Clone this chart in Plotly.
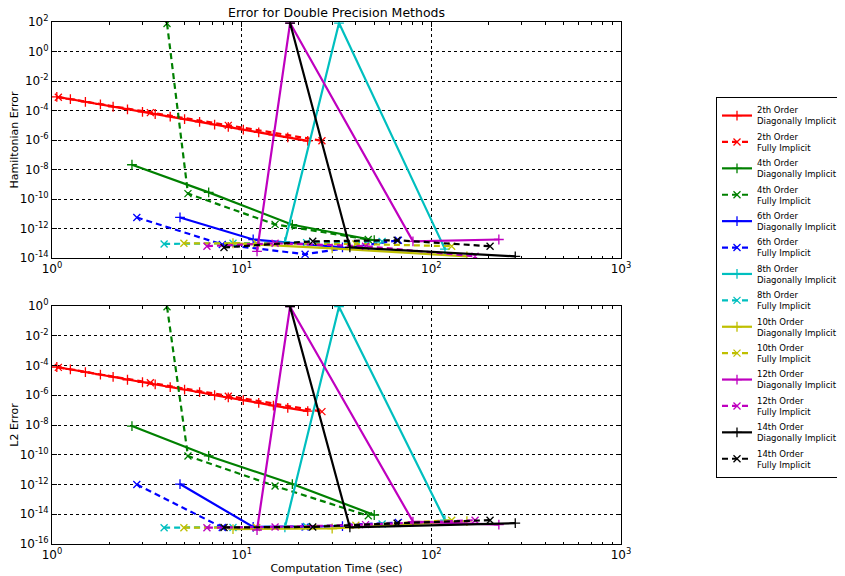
import plotly.graph_objects as go

# ---------------- data ----------------
orders = ["2th", "4th", "6th", "8th", "10th", "12th", "14th"]

t2d = [1.06, 1.25, 1.5, 1.8, 2.1, 2.5, 3.0, 3.5, 4.2, 5.0, 6.0, 7.2, 8.5, 10.2, 12.3, 14.7, 17.5, 22.3]
h2d = [8.5e-4, 5.9e-4, 3.9e-4, 2.6e-4, 1.8e-4, 1.2e-4, 8.1e-5, 5.8e-5, 3.8e-5, 2.6e-5, 1.7e-5, 1.1e-5, 7.8e-6, 5.1e-6, 3.3e-6, 2.2e-6, 1.5e-6, 8.7e-7]
l2d = [7.9e-5, 5.5e-5, 3.6e-5, 2.4e-5, 1.7e-5, 1.1e-5, 7.5e-6, 5.4e-6, 3.5e-6, 2.4e-6, 1.6e-6, 1.0e-6, 7.2e-7, 4.7e-7, 3.1e-7, 2.0e-7, 1.4e-7, 8.5e-8]
t2f = [1.08, 3.3, 8.5, 26.5]
h2f = [8.0e-4, 7.2e-5, 9.8e-6, 8.9e-7]
l2f = [7.5e-5, 7.0e-6, 8.5e-7, 7.9e-8]

t4d = [2.64, 6.7, 18.5, 50]
h4d = [2.1e-8, 2.8e-10, 1.8e-12, 1.6e-13]
l4d = [8.5e-9, 8.3e-11, 1.07e-12, 8.9e-15]
t4f = [4.04, 5.21, 15.0, 46.5]
h4f = [80, 2.3e-10, 1.9e-12, 1.8e-13]
l4f = [0.9, 8.3e-11, 7.9e-13, 7.9e-15]

t6d = [4.73, 11.5, 34]
h6d = [5.6e-12, 1.8e-13, 5.2e-14]
l6d = [1.07e-12, 1.4e-15, 1.6e-15]
t6f = [2.8, 7.9, 21.6, 67]
h6f = [5.6e-12, 8.3e-14, 1.8e-14, 1.6e-13]
l6f = [1.0e-12, 1.3e-15, 1.4e-15, 2.8e-15]

t8d = [16.9, 32.6, 118]
h8d = [1.2e-13, 85, 4.0e-14]
l8d = [1.3e-15, 0.9, 4.0e-15]
t8f = [3.9, 9.0, 22, 55]
h8f = [9e-14, 1.0e-13, 1.1e-13, 1.3e-13]
l8f = [1.25e-15, 1.3e-15, 1.5e-15, 2.2e-15]

t10d = [9.0, 30, 154]
h10d = [1.0e-13, 4.5e-14, 1.3e-14]
l10d = [1.0e-15, 1.1e-15, 3.5e-15]
t10f = [4.96, 12, 40, 128]
h10f = [1.0e-13, 1.0e-13, 9e-14, 6.3e-14]
l10f = [1.25e-15, 1.3e-15, 1.8e-15, 4.0e-15]

t12d = [12.05, 18.0, 80, 227]
h12d = [2.8e-14, 85, 1.35e-13, 1.8e-13]
l12d = [8.7e-16, 0.9, 3.2e-15, 2.0e-15]
t12f = [6.56, 15, 45, 170]
h12f = [6.3e-14, 1.0e-13, 6.3e-14, 1.3e-14]
l12f = [1.25e-15, 1.4e-15, 2.0e-15, 4.0e-15]

t14d = [18.0, 37.2, 277]
h14d = [85, 5.2e-14, 1.3e-14]
l14d = [0.9, 1.3e-15, 2.5e-15]
t14f = [8.07, 23.7, 66, 204]
h14f = [5.2e-14, 1.35e-13, 1.6e-13, 6.3e-14]
l14f = [1.3e-15, 1.4e-15, 2.5e-15, 4.0e-15]

colors = ["#FF0000", "#008000", "#0000FF", "#00BFBF", "#BFBF00", "#BF00BF", "#000000"]

diag = [(t2d, h2d, l2d), (t4d, h4d, l4d), (t6d, h6d, l6d), (t8d, h8d, l8d),
        (t10d, h10d, l10d), (t12d, h12d, l12d), (t14d, h14d, l14d)]
full = [(t2f, h2f, l2f), (t4f, h4f, l4f), (t6f, h6f, l6f), (t8f, h8f, l8f),
        (t10f, h10f, l10f), (t12f, h12f, l12f), (t14f, h14f, l14f)]

x_ticks = [1, 10, 100, 1000]
x_tick_text = ["10<sup>0</sup>", "10<sup>1</sup>", "10<sup>2</sup>", "10<sup>3</sup>"]
y_top_exp = [2, 0, -2, -4, -6, -8, -10, -12, -14]
y_bot_exp = [0, -2, -4, -6, -8, -10, -12, -14, -16]

# ---------------- figure ----------------
# The page body has an 8px margin, so the figure occupies page pixels 8..845 x 8..576.
W, H = 837, 568
fig = go.Figure()
FONT = "DejaVu Sans"

for i, order in enumerate(orders):
    c = colors[i]
    for kind, data, sym, dash in (("Diagonally Implicit", diag[i], "cross-thin", "solid"),
                                  ("Fully Implicit", full[i], "x-thin", "6px,4px")):
        t, h, l = data
        name = f"{order} Order<br>{kind}"
        for row, yy in ((1, h), (2, l)):
            fig.add_trace(go.Scatter(
                x=t, y=yy, mode="lines+markers", name=name,
                legendgroup=name, showlegend=(row == 1),
                line=dict(color=c, width=2.2, dash=dash),
                marker=dict(symbol=sym, size=7, color=c, line=dict(color=c, width=1.3)),
                xaxis="x" if row == 1 else "x2",
                yaxis="y" if row == 1 else "y2",
            ))

minor_x = [m * 10 ** k for k in range(0, 3) for m in range(2, 10)]

common_x = dict(
    type="log", range=[0, 3], tickvals=x_ticks, ticktext=x_tick_text,
    ticks="inside", ticklen=5, tickcolor="black", mirror="allticks",
    showline=True, linecolor="black", linewidth=1,
    showgrid=True, gridcolor="black", griddash="dot", gridwidth=0.6,
    zeroline=False, tickfont=dict(size=12, family=FONT, color="black"),
    minor=dict(tickvals=minor_x, ticks="inside", ticklen=2.5, tickcolor="black", showgrid=False),
)

def yax(exps, rng, title, domain):
    return dict(
        type="log", range=rng, domain=domain,
        tickvals=[10 ** e for e in exps],
        ticktext=[f"10<sup>{e}</sup>" for e in exps],
        ticks="inside", ticklen=5, tickcolor="black", mirror="allticks",
        showline=True, linecolor="black", linewidth=1,
        showgrid=True, gridcolor="black", griddash="dot", gridwidth=0.6,
        zeroline=False, tickfont=dict(size=12, family=FONT, color="black"),
        title=dict(text=title, font=dict(size=11, family=FONT, color="black"), standoff=4),
    )

xd = [44 / W, 613 / W]
fig.update_layout(
    width=W, height=H,
    margin=dict(l=0, r=0, t=0, b=0, autoexpand=False),
    paper_bgcolor="white", plot_bgcolor="white",
    font=dict(family=FONT, color="black"),
    xaxis=dict(common_x, domain=xd, anchor="y"),
    xaxis2=dict(common_x, domain=xd, anchor="y2",
                title=dict(text="Computation Time (sec)", font=dict(size=11, family=FONT, color="black"), standoff=2)),
    yaxis=yax(y_top_exp, [-14, 2], "Hamiltonian Error", [1 - 250 / H, 1 - 14 / H]),
    yaxis2=yax(y_bot_exp, [-16, 0], "L2 Error", [1 - 536 / H, 1 - 298 / H]),
    title=dict(text="Error for Double Precision Methods", x=328.5 / W, xanchor="center",
               y=1 - 0.5 / H, yanchor="top", pad=dict(t=0, b=0),
               font=dict(size=12.5, family=FONT, color="black")),
    legend=dict(x=708 / W, y=1 - 89 / H, xanchor="left", yanchor="top",
                bordercolor="black", borderwidth=1, bgcolor="white",
                font=dict(size=8.5, family=FONT, color="black"), tracegroupgap=1.3),
    showlegend=True,
)

fig.write_html("out.html")
